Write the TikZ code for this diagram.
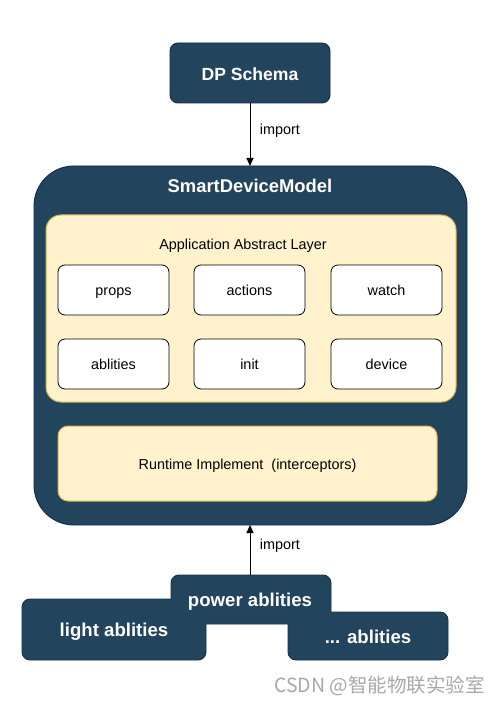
\documentclass[tikz,border=0pt]{standalone}
\usepackage{fontspec}
\setmainfont{Liberation Sans}
\newfontfamily\cjkfont{Noto Sans CJK SC}
\usetikzlibrary{arrows.meta}
\definecolor{navy}{HTML}{23445D}
\definecolor{navyline}{HTML}{12284A}
\definecolor{paleyellow}{HTML}{FFF2CC}
\definecolor{goldline}{HTML}{D6B656}
\definecolor{wmgray}{HTML}{A8A8A8}
\tikzset{
  x=1pt, y=-1pt,
  darkbox/.style={draw=navyline, fill=navy, line width=0.9pt, rounded corners=8pt},
  darklabel/.style={text=white, font=\fontsize{18.6}{21}\selectfont\bfseries, text height=13.3pt, text depth=0pt},
  layerbox/.style={draw=goldline, fill=paleyellow, line width=1pt},
  itembox/.style={draw=black, fill=white, line width=0.8pt, rounded corners=7pt},
  plainlabel/.style={text=black, font=\fontsize{14.4}{17}\selectfont, text height=10.4pt, text depth=0pt},
  conn/.style={draw=black, line width=1pt, -{Triangle[length=8pt,width=7pt]}},
}
\begin{document}
\begin{tikzpicture}
\useasboundingbox (0,0) rectangle (500,703);
% DP Schema
\draw[darkbox] (170,43) rectangle (330,103);
\node[darklabel, font=\fontsize{17.6}{20}\selectfont\bfseries, text height=12.6pt] (dp) at (250,74) {DP Schema};
\coordinate (dpbottom) at (250,103);
% SmartDeviceModel
\draw[darkbox, rounded corners=40pt] (34,166) rectangle (467,525);
\coordinate (sdmtop) at (250,166);
\coordinate (sdmbottom) at (250,525);
\node[darklabel, font=\fontsize{18.4}{21}\selectfont\bfseries] (sdm) at (250,186) {SmartDeviceModel};
% Application Abstract Layer
\draw[layerbox, rounded corners=15pt] (46,215) rectangle (456,402);
\node[plainlabel] (aal) at (243,244) {Application Abstract Layer};
% items
\draw[itembox] (58,265) rectangle (169,315);
\node[plainlabel] (props) at (113.5,290) {props};
\draw[itembox] (194,265) rectangle (305,315);
\node[plainlabel] (actions) at (249.5,290) {actions};
\draw[itembox] (331,265) rectangle (442,315);
\node[plainlabel] (watch) at (386.5,290) {watch};
\draw[itembox] (58,339) rectangle (169,389);
\node[plainlabel] (ablities) at (113.5,364) {ablities};
\draw[itembox] (194,339) rectangle (305,389);
\node[plainlabel] (init) at (249.5,364) {init};
\draw[itembox] (331,339) rectangle (442,389);
\node[plainlabel] (device) at (386.5,364) {device};
% Runtime
\draw[layerbox, rounded corners=10pt] (58,426) rectangle (437,501);
\node[plainlabel] (rt) at (247.5,464) {Runtime Implement\ \ (interceptors)};
% bottom group: borders first, then fills
\draw[darkbox] (171,575) rectangle (331,624);
\draw[darkbox] (22,599) rectangle (206,660);
\draw[darkbox] (288,612) rectangle (448,660);
\fill[navy, rounded corners=7.6pt] (171.45,575.45) rectangle (330.55,623.55);
\fill[navy, rounded corners=7.6pt] (22.45,599.45) rectangle (205.55,659.55);
\fill[navy, rounded corners=7.6pt] (288.45,612.45) rectangle (447.55,659.55);
\node[darklabel] (power) at (250,600) {power ablities};
\node[darklabel] (light) at (114,630) {light ablities};
\node[darklabel] (other) at (368,637) {... ablities};
\coordinate (powertop) at (250,575);
% connectors
\draw[conn] (dpbottom) -- node[pos=0.42, right=6pt, plainlabel] (imp1) {import} (sdmtop);
\draw[conn] (powertop) -- node[pos=0.62, right=6pt, plainlabel] (imp2) {import} (sdmbottom);
% watermark
\node[anchor=west, text=wmgray, font=\cjkfont\fontsize{19.5}{22}\selectfont, inner sep=0pt] (wm) at (274,686) {CSDN @智能物联实验室};
\end{tikzpicture}
\end{document}
